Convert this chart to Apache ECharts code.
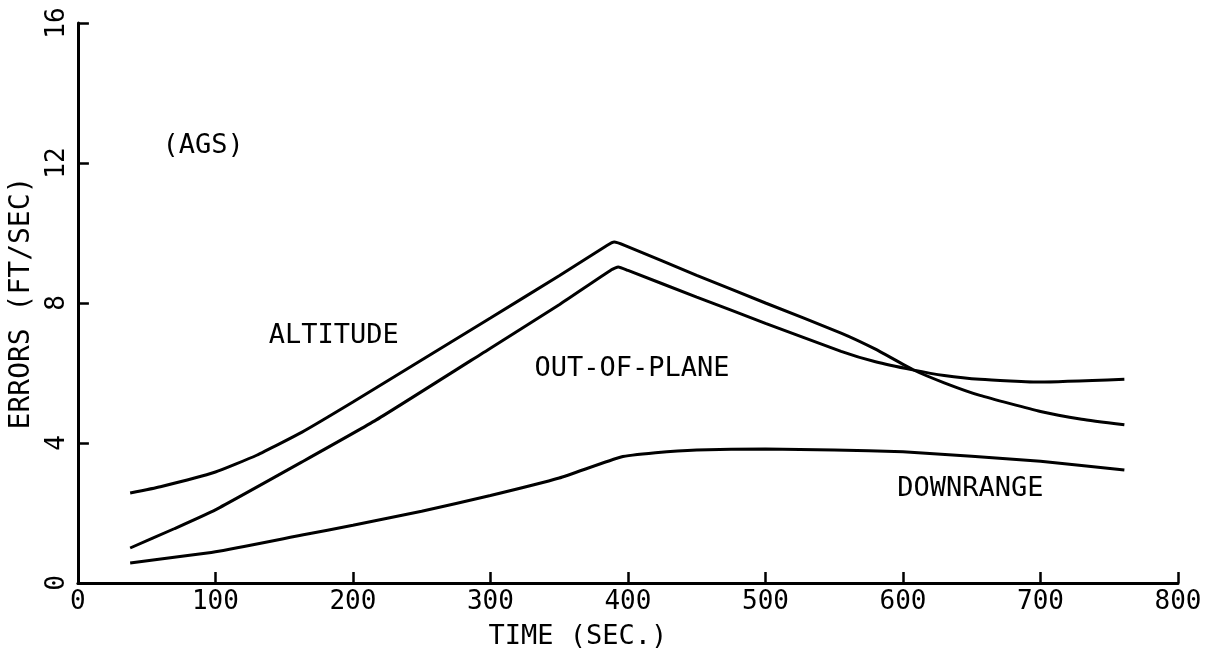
<!DOCTYPE html>
<html>
<head>
<meta charset="utf-8">
<script src="https://cdn.jsdelivr.net/npm/echarts@6/dist/echarts.min.js"></script>
<style>
html,body{margin:0;padding:0;background:#fff;}
#chart{width:1222px;height:657px;}
</style>
</head>
<body>
<div id="chart"></div>
<script>
// Time (sec) and error values (ft/sec)
const altitudeT = [38, 60, 100, 130, 163, 200, 250, 300, 350, 385, 390, 398, 450, 500, 555, 580, 607, 630, 656, 700, 730, 761];
const altitudeV = [2.57, 2.75, 3.17, 3.65, 4.31, 5.17, 6.37, 7.57, 8.78, 9.65, 9.74, 9.64, 8.79, 8.0, 7.14, 6.68, 6.1, 5.72, 5.36, 4.9, 4.68, 4.52];

const outOfPlaneT = [38, 70, 100, 163, 217, 300, 350, 388, 393, 400, 450, 500, 555, 580, 607, 630, 656, 700, 761];
const outOfPlaneV = [1.0, 1.55, 2.09, 3.46, 4.66, 6.71, 7.95, 8.95, 9.03, 8.93, 8.17, 7.42, 6.62, 6.32, 6.09, 5.93, 5.82, 5.74, 5.82];

const downrangeT = [38, 100, 163, 200, 250, 300, 350, 395, 420, 450, 500, 550, 600, 650, 700, 761];
const downrangeV = [0.57, 0.89, 1.37, 1.65, 2.05, 2.5, 3.0, 3.6, 3.72, 3.8, 3.83, 3.8, 3.75, 3.62, 3.48, 3.23];

const xTicks = [0, 100, 200, 300, 400, 500, 600, 700, 800];
const yTicks = [0, 4, 8, 12, 16];

const annotationText = ['(AGS)', 'ALTITUDE', 'OUT-OF-PLANE', 'DOWNRANGE'];
const annotationT = [91, 186, 403, 649];
const annotationV = [12.5, 7.06, 6.11, 2.7];

const FONT = 'DejaVu Sans Mono';
const pairs = (t, v) => t.map((x, i) => [x, v[i]]);

const lineSeries = (name, t, v) => ({
  name: name,
  type: 'line',
  data: pairs(t, v),
  showSymbol: false,
  symbol: 'none',
  smooth: 0.15,
  lineStyle: { color: '#000', width: 3 },
  z: 3
});

const chart = echarts.init(document.getElementById('chart'), null, { renderer: 'canvas' });
chart.setOption({
  backgroundColor: '#fff',
  animation: false,
  grid: { left: 75, right: 44, top: 23, bottom: 74 },
  xAxis: {
    type: 'value',
    min: xTicks[0],
    max: xTicks[xTicks.length - 1],
    interval: 100,
    name: 'TIME (SEC.)',
    nameLocation: 'middle',
    nameGap: 40,
    nameTextStyle: { fontFamily: FONT, fontSize: 27, color: '#000', padding: [0, 100, 0, 0] },
    axisLine: { show: true, lineStyle: { color: '#000', width: 3 } },
    axisTick: { show: true, inside: true, length: 11, lineStyle: { color: '#000', width: 2.5 } },
    axisLabel: { fontFamily: FONT, fontSize: 26, color: '#000', margin: 6,
      formatter: v => xTicks.includes(v) ? String(v) : '' },
    splitLine: { show: false }
  },
  yAxis: {
    type: 'value',
    min: yTicks[0],
    max: yTicks[yTicks.length - 1],
    interval: 4,
    name: 'ERRORS (FT/SEC)',
    nameLocation: 'middle',
    nameGap: 40,
    nameRotate: 90,
    nameTextStyle: { fontFamily: FONT, fontSize: 28, color: '#000' },
    axisLine: { show: true, lineStyle: { color: '#000', width: 3 } },
    axisTick: { show: true, inside: true, length: 11, lineStyle: { color: '#000', width: 2.5 } },
    axisLabel: { fontFamily: FONT, fontSize: 26, color: '#000', rotate: 90, margin: 8,
      formatter: v => yTicks.includes(v) ? String(v) : '' },
    splitLine: { show: false }
  },
  series: [
    lineSeries('ALTITUDE', altitudeT, altitudeV),
    lineSeries('OUT-OF-PLANE', outOfPlaneT, outOfPlaneV),
    lineSeries('DOWNRANGE', downrangeT, downrangeV),
    {
      type: 'scatter',
      symbolSize: 0,
      silent: true,
      itemStyle: { opacity: 1, color: '#000' },
      data: annotationText.map((s, i) => ({ name: s, value: [annotationT[i], annotationV[i]] })),
      label: {
        show: true,
        position: 'inside',
        formatter: p => p.name,
        fontFamily: FONT,
        fontSize: 27,
        color: '#000',
        opacity: 1
      },
      z: 4
    }
  ]
});
</script>
</body>
</html>
